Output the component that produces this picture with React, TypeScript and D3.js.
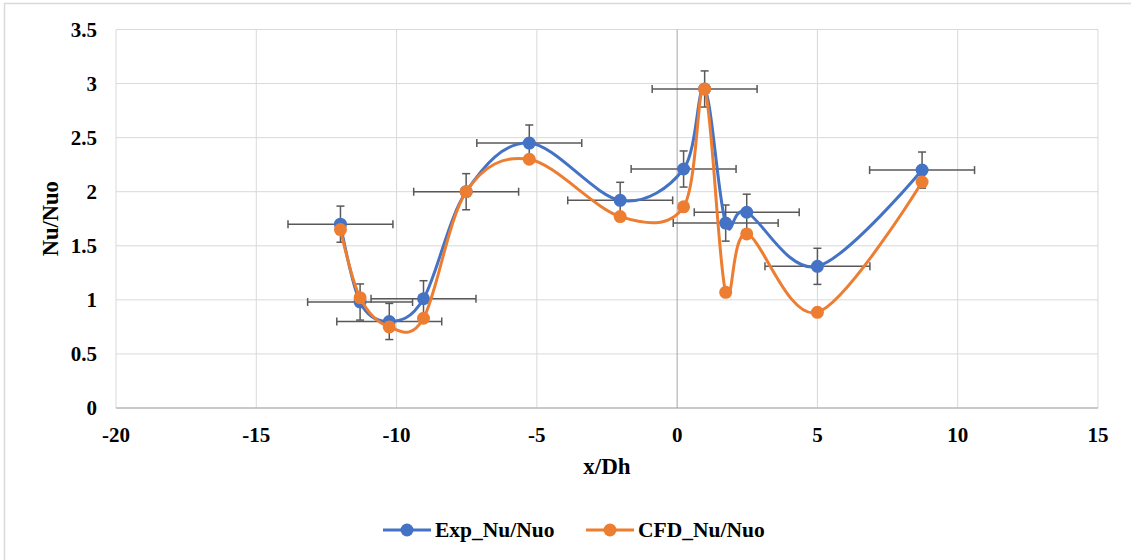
import React from "react";
import * as d3 from "d3";

const xValues = [-12, -11.3, -10.26, -9.04, -7.52, -5.27, -2.03, 0.23, 0.98, 1.73, 2.48, 5.0, 8.73];
const expValues = [1.7, 0.98, 0.8, 1.01, 2.0, 2.45, 1.92, 2.21, 2.95, 1.71, 1.81, 1.31, 2.2];
const cfdValues = [1.65, 1.02, 0.75, 0.83, 2.0, 2.3, 1.77, 1.86, 2.95, 1.07, 1.61, 0.885, 2.09];
const xErr = 1.87;
const yErr = 0.167;
const xTicks = [-20, -15, -10, -5, 0, 5, 10, 15];
const yTicks = [0, 0.5, 1, 1.5, 2, 2.5, 3, 3.5];
const seriesNames = ["Exp_Nu/Nuo", "CFD_Nu/Nuo"];

const W = 1131;
const H = 560;
const BLUE = "#4472C4";
const ORANGE = "#ED7D31";
const FONT = '"Liberation Serif", "Times New Roman", serif';

export default function App() {
  const x = d3.scaleLinear().domain([-20, 15]).range([116, 1098]);
  const y = d3.scaleLinear().domain([0, 3.5]).range([408, 29.5]);
  const line = d3
    .line<[number, number]>()
    .x((d) => x(d[0]))
    .y((d) => y(d[1]))
    .curve(d3.curveCatmullRom.alpha(0));
  const expPts: [number, number][] = xValues.map((v, i) => [v, expValues[i]]);
  const cfdPts: [number, number][] = xValues.map((v, i) => [v, cfdValues[i]]);
  const cap = 4;
  const errColor = "#595959";
  const txt = { fontFamily: FONT, fontWeight: 700 as const };

  return (
    <svg
      width={W}
      height={H}
      style={{ position: "absolute", left: 0, top: 0, background: "#fff", fontFamily: FONT }}
    >
      <rect x={0} y={0} width={W} height={H} fill="#fff" />
      <line x1={4} y1={3.5} x2={W} y2={3.5} stroke="#D9D9D9" strokeWidth={1.5} />
      <line x1={4.5} y1={3} x2={4.5} y2={H} stroke="#D9D9D9" strokeWidth={1.5} />

      {yTicks.map((t) => (
        <line key={"gy" + t} x1={x(-20)} x2={x(15)} y1={y(t)} y2={y(t)} stroke="#D9D9D9" strokeWidth={1} />
      ))}
      {xTicks.map((t) => (
        <line key={"gx" + t} x1={x(t)} x2={x(t)} y1={y(0)} y2={y(3.5)} stroke={t === 0 ? "#A6A6A6" : "#D9D9D9"} strokeWidth={1} />
      ))}
      <line x1={x(-20)} x2={x(15)} y1={y(0)} y2={y(0)} stroke="#A6A6A6" strokeWidth={1} />

      {yTicks.map((t) => (
        <text key={"ty" + t} x={97} y={y(t) + 7} textAnchor="end" fontSize={21} style={txt} fill="#000">
          {t}
        </text>
      ))}
      {xTicks.map((t) => (
        <text key={"tx" + t} x={x(t)} y={442} textAnchor="middle" fontSize={21} style={txt} fill="#000">
          {t}
        </text>
      ))}
      <text x={607} y={474} textAnchor="middle" fontSize={23} style={txt}>
        x/Dh
      </text>
      <text transform={`translate(58, ${(y(0) + y(3.5)) / 2}) rotate(-90)`} textAnchor="middle" fontSize={22.5} style={txt}>
        Nu/Nuo
      </text>

      {expPts.map(([px, py], i) => (
        <g key={"err" + i} stroke={errColor} strokeWidth={1.5}>
          <line x1={x(px - xErr)} x2={x(px + xErr)} y1={y(py)} y2={y(py)} />
          <line x1={x(px - xErr)} x2={x(px - xErr)} y1={y(py) - cap} y2={y(py) + cap} />
          <line x1={x(px + xErr)} x2={x(px + xErr)} y1={y(py) - cap} y2={y(py) + cap} />
          <line x1={x(px)} x2={x(px)} y1={y(py - yErr)} y2={y(py + yErr)} />
          <line x1={x(px) - cap} x2={x(px) + cap} y1={y(py - yErr)} y2={y(py - yErr)} />
          <line x1={x(px) - cap} x2={x(px) + cap} y1={y(py + yErr)} y2={y(py + yErr)} />
        </g>
      ))}

      <path d={line(expPts) || ""} fill="none" stroke={BLUE} strokeWidth={3} />
      {expPts.map(([px, py], i) => (
        <circle key={"be" + i} cx={x(px)} cy={y(py)} r={6.5} fill={BLUE} />
      ))}
      <path d={line(cfdPts) || ""} fill="none" stroke={ORANGE} strokeWidth={3} />
      {cfdPts.map(([px, py], i) => (
        <circle key={"oc" + i} cx={x(px)} cy={y(py)} r={6.5} fill={ORANGE} />
      ))}

      {[
        { c: BLUE, x0: 383, name: seriesNames[0] },
        { c: ORANGE, x0: 586, name: seriesNames[1] },
      ].map((l) => (
        <g key={l.name}>
          <line x1={l.x0} x2={l.x0 + 48} y1={530} y2={530} stroke={l.c} strokeWidth={3} />
          <circle cx={l.x0 + 24} cy={530} r={6.5} fill={l.c} />
          <text x={l.x0 + 52} y={537} fontSize={21.5} style={txt}>
            {l.name}
          </text>
        </g>
      ))}
    </svg>
  );
}
